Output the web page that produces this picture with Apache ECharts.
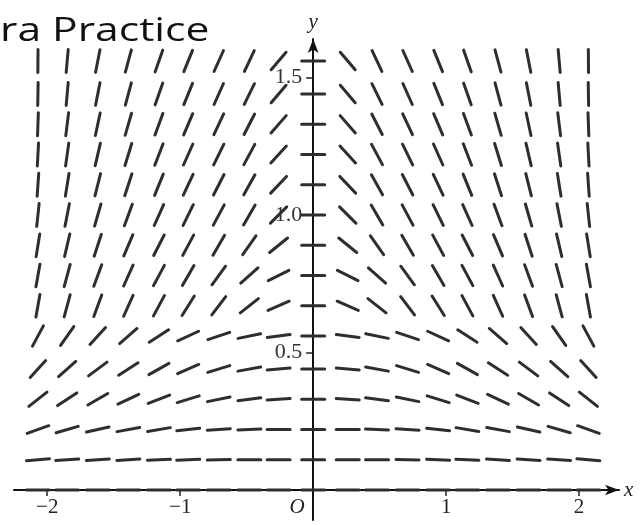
<!DOCTYPE html>
<html>
<head>
<meta charset="utf-8">
<script src="https://cdn.jsdelivr.net/npm/echarts@6/dist/echarts.min.js"></script>
<style>
  html, body { margin: 0; padding: 0; background: #fff; }
  #chart { width: 641px; height: 525px; }
</style>
</head>
<body>
<div id="chart"></div>
<script>
// Sample points of the slope field: column x positions and row y positions
const xCols = [-2.07, -1.85, -1.62, -1.39, -1.16, -0.94, -0.71, -0.48, -0.26, 0,
               0.26, 0.48, 0.71, 0.94, 1.16, 1.39, 1.62, 1.85, 2.07];
const yRows = [0, 0.11, 0.22, 0.33, 0.44, 0.56, 0.67, 0.78, 0.89, 1.0,
               1.11, 1.22, 1.33, 1.44, 1.56];

// Slope dy/dx at each sample point, one row per entry of yRows (bottom to top)
const slopes = [
  [0, 0, 0, 0, 0, 0, 0, 0, 0, 0, 0, 0, 0, 0, 0, 0, 0, 0, 0],
  [0.04, 0.03, 0.03, 0.03, 0.02, 0.02, 0.01, 0, 0, 0, 0, 0, -0.01, -0.02, -0.02, -0.03, -0.03, -0.03, -0.04],
  [0.17, 0.14, 0.11, 0.09, 0.08, 0.05, 0.03, 0.02, 0, 0, 0, -0.02, -0.03, -0.05, -0.08, -0.09, -0.11, -0.14, -0.17],
  [0.38, 0.32, 0.28, 0.23, 0.19, 0.15, 0.1, 0.06, 0.03, 0, -0.03, -0.06, -0.1, -0.15, -0.19, -0.23, -0.28, -0.32, -0.38],
  [0.53, 0.43, 0.36, 0.31, 0.27, 0.21, 0.15, 0.09, 0.04, 0, -0.04, -0.09, -0.15, -0.21, -0.27, -0.31, -0.36, -0.43, -0.53],
  [0.9, 0.69, 0.53, 0.42, 0.31, 0.22, 0.16, 0.1, 0.06, 0, -0.06, -0.1, -0.16, -0.22, -0.31, -0.42, -0.53, -0.69, -0.9],
  [2.72, 1.79, 1.32, 1.08, 0.9, 0.77, 0.64, 0.38, 0.21, 0, -0.21, -0.38, -0.64, -0.77, -0.9, -1.08, -1.32, -1.79, -2.72],
  [2.72, 1.79, 1.32, 1.08, 0.9, 0.83, 0.66, 0.43, 0.24, 0, -0.24, -0.43, -0.66, -0.83, -0.9, -1.08, -1.32, -1.79, -2.72],
  [3.03, 2.08, 1.48, 1.13, 0.94, 0.9, 0.83, 0.69, 0.39, 0, -0.39, -0.69, -0.83, -0.9, -0.94, -1.13, -1.48, -2.08, -3.03],
  [4.57, 2.47, 1.67, 1.32, 1.08, 0.98, 0.9, 0.83, 0.48, 0, -0.48, -0.83, -0.9, -0.98, -1.08, -1.32, -1.67, -2.47, -4.57],
  [6.86, 3.03, 1.93, 1.48, 1.19, 1.03, 0.94, 0.87, 0.51, 0, -0.51, -0.87, -0.94, -1.03, -1.19, -1.48, -1.93, -3.03, -6.86],
  [9.16, 3.42, 2.08, 1.57, 1.25, 1.08, 0.98, 0.9, 0.53, 0, -0.53, -0.9, -0.98, -1.08, -1.25, -1.57, -2.08, -3.42, -9.16],
  [13.7, 3.91, 2.26, 1.67, 1.32, 1.13, 1.03, 0.94, 0.55, 0, -0.55, -0.94, -1.03, -1.13, -1.32, -1.67, -2.26, -3.91, -13.7],
  [27.5, 5.49, 2.47, 1.79, 1.39, 1.19, 1.08, 0.98, 0.57, 0, -0.57, -0.98, -1.08, -1.19, -1.39, -1.79, -2.47, -5.49, -27.5],
  [60, 5.49, 2.47, 1.79, 1.39, 1.19, 1.08, 1.03, 0.57, 0, -0.57, -1.03, -1.08, -1.19, -1.39, -1.79, -2.47, -5.49, -60]
];

// Axis tick labels
const xTickValues = [-2, -1, 0, 1, 2];
const yTickValues = [0.5, 1.0, 1.5];

// Flatten the grid into [x, y, slope] triples
const fieldData = [];
yRows.forEach(function (y, i) {
  xCols.forEach(function (x, j) {
    fieldData.push([x, y, slopes[i][j]]);
  });
});

const SEG_HALF = 11.5; // half length of each slope segment, in pixels
const serif = "'Liberation Serif', 'DejaVu Serif', serif";

// Plot area and axis ranges
const GRID = { left: 14, right: 22, top: 39, bottom: 5 };
const X_MIN = -2.25, X_MAX = 2.3;
const Y_MIN = -0.109, Y_MAX = 1.64;

const chart = echarts.init(document.getElementById('chart'), null, { renderer: 'canvas' });

// The axes cross at the origin: shift each one from the grid edge to zero
const plotW = 641 - GRID.left - GRID.right;
const plotH = 525 - GRID.top - GRID.bottom;
const yAxisShift = -plotW * (0 - X_MIN) / (X_MAX - X_MIN);
const xAxisShift = -plotH * (0 - Y_MIN) / (Y_MAX - Y_MIN);

chart.setOption({
  animation: false,
  backgroundColor: '#ffffff',
  graphic: [{
    type: 'text',
    x: 0,
    y: 16,
    scaleX: 1.33,
    style: {
      text: 'ra Practice',
      fontFamily: "'Open Sans', 'Noto Sans', sans-serif",
      fontSize: 32,
      fill: '#111',
      textAlign: 'left',
      textVerticalAlign: 'top'
    }
  }],
  grid: {
    left: GRID.left, right: GRID.right, top: GRID.top, bottom: GRID.bottom,
    containLabel: false,
    outerBoundsMode: 'none'
  },
  xAxis: {
    type: 'value',
    min: X_MIN,
    max: X_MAX,
    position: 'bottom',
    offset: xAxisShift,
    name: 'x',
    nameLocation: 'end',
    nameGap: 5,
    nameTextStyle: { fontFamily: serif, fontStyle: 'italic', fontSize: 21, color: '#222' },
    axisLine: {
      onZero: false,
      symbol: ['none', 'arrow'],
      symbolSize: [8, 14],
      lineStyle: { color: '#111', width: 2 }
    },
    axisTick: {
      show: true,
      customValues: [-2, -1, 1, 2],
      length: 6,
      lineStyle: { color: '#222', width: 1.5 }
    },
    axisLabel: {
      customValues: xTickValues,
      margin: 7,
      fontFamily: serif,
      fontSize: 21,
      color: '#222',
      formatter: function (v) {
        if (v === 0) return '{o|O}';
        return v < 0 ? '\u2212' + Math.abs(v) : String(v);
      },
      rich: {
        o: { fontFamily: serif, fontStyle: 'italic', fontSize: 21, color: '#222', padding: [0, 32, 0, 0] }
      }
    },
    splitLine: { show: false }
  },
  yAxis: {
    type: 'value',
    min: Y_MIN,
    max: Y_MAX,
    position: 'left',
    offset: yAxisShift,
    name: 'y',
    nameLocation: 'end',
    nameGap: 6,
    nameTextStyle: { fontFamily: serif, fontStyle: 'italic', fontSize: 21, color: '#222' },
    axisLine: {
      onZero: false,
      symbol: ['none', 'arrow'],
      symbolSize: [8, 14],
      lineStyle: { color: '#111', width: 2 }
    },
    axisTick: {
      show: true,
      customValues: yTickValues,
      length: 7,
      lineStyle: { color: '#222', width: 1.5 }
    },
    axisLabel: {
      customValues: yTickValues,
      margin: 11,
      fontFamily: serif,
      fontSize: 22,
      color: '#333',
      formatter: function (v) { return v.toFixed(1); }
    },
    splitLine: { show: false }
  },
  series: [{
    type: 'custom',
    clip: false,
    data: fieldData,
    renderItem: function (params, api) {
      const x = api.value(0);
      const y = api.value(1);
      const m = api.value(2);
      const c = api.coord([x, y]);
      const d = api.coord([x + 1, y + m]);
      let dx = d[0] - c[0];
      let dy = d[1] - c[1];
      const len = Math.sqrt(dx * dx + dy * dy) || 1;
      dx = dx / len * SEG_HALF;
      dy = dy / len * SEG_HALF;
      return {
        type: 'line',
        shape: { x1: c[0] - dx, y1: c[1] - dy, x2: c[0] + dx, y2: c[1] + dy },
        style: { stroke: '#2e2e2e', lineWidth: 3, lineCap: 'round' }
      };
    }
  }]
});
</script>
</body>
</html>
